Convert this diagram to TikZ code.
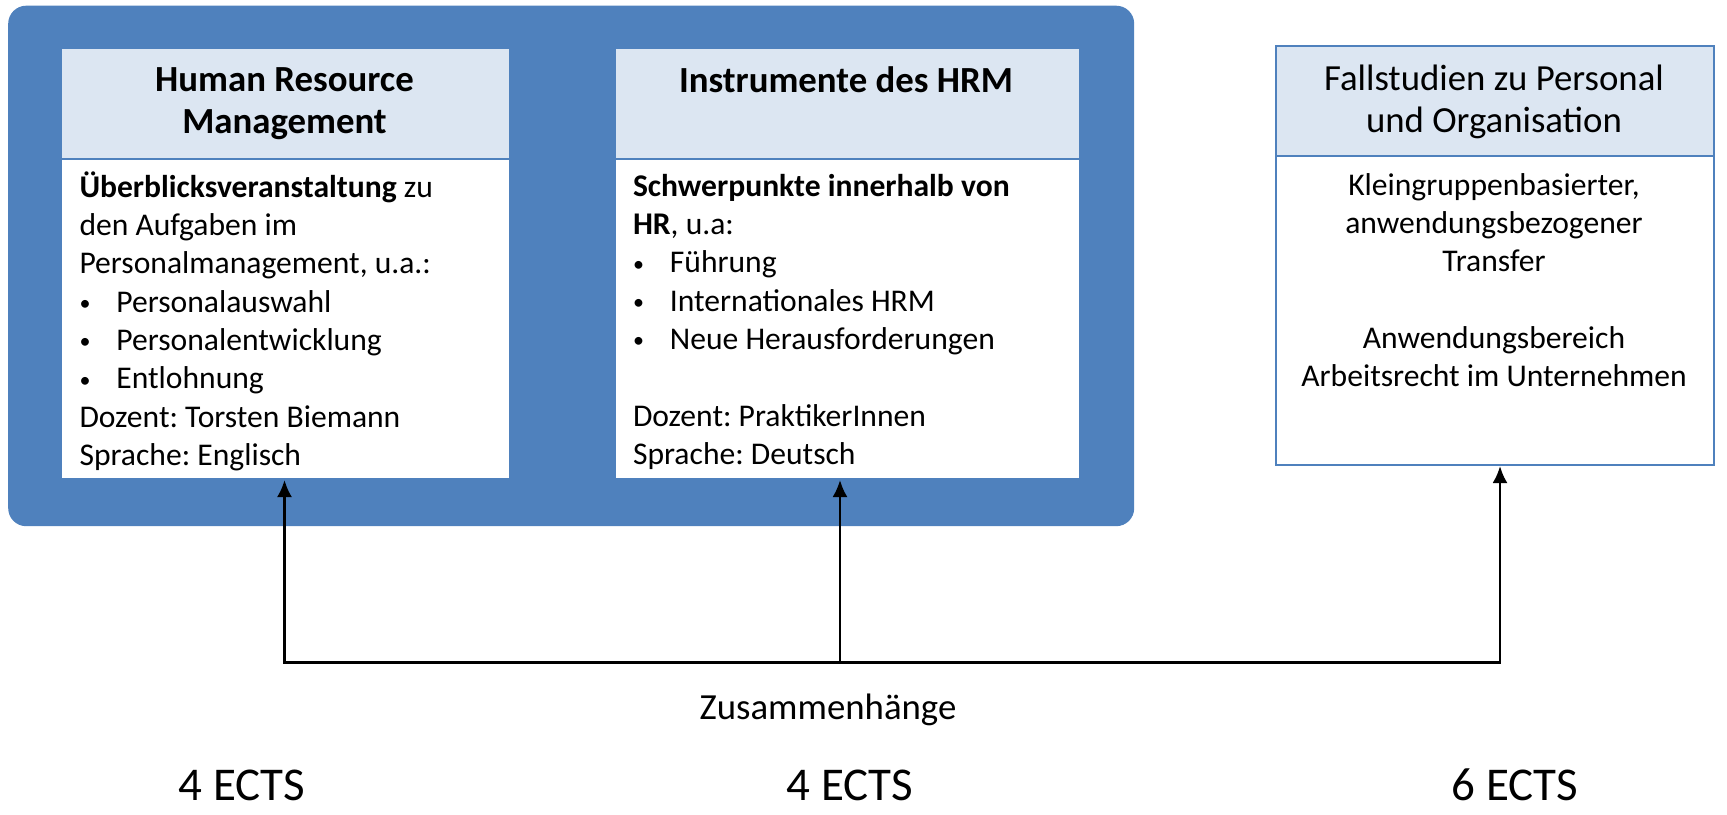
\documentclass[tikz,border=0pt]{standalone}
\usepackage{fontspec}
\setmainfont{Carlito}
\usetikzlibrary{arrows.meta}
\frenchspacing

\definecolor{accent}{HTML}{4F81BD}
\definecolor{headfill}{HTML}{DCE6F2}

% font sizes used in the chart
\newcommand\txtbody{\fontsize{31.6}{38.3}\selectfont}
\newcommand\txthead{\fontsize{36.8}{42.5}\selectfont}
\newcommand\txtects{\fontsize{47}{56}\selectfont}
% bullet with a fixed indent for list items
\newcommand\blt{\makebox[36.9pt][l]{\raisebox{1.5pt}{\fontsize{22}{22}\selectfont\textbullet}}}

\begin{document}
\begin{tikzpicture}[x=1pt,y=-1pt,
  panel/.style={rectangle, draw=accent, line width=2pt, inner sep=0pt, anchor=north west},
  headbox/.style={panel, fill=headfill},
  bodybox/.style={panel, fill=white},
  headtext/.style={inner sep=0pt, font=\txthead, align=center},
  bodytext/.style={inner sep=0pt, font=\txtbody},
  link/.style={draw=black, line width=2.5pt},
  tip/.style={-{Latex[length=17pt,width=15pt]}},
]
\useasboundingbox (0,0) rectangle (1727,814);

% blue group around the two lectures
\node[rectangle, fill=accent, rounded corners=18pt, inner sep=0pt,
      minimum width=1126pt, minimum height=520.5pt, anchor=north west]
      (group) at (8,5.5) {};

% Human Resource Management
\node[headbox, minimum width=449pt, minimum height=111pt] (hrmhead) at (60,47) {};
\node[bodybox, minimum width=449pt, minimum height=320pt] (hrmbody) at (60,158) {};
\node[headtext, font=\txthead\bfseries, anchor=north] (hrmtitle) at (284.5,61.5)
  {\strut Human Resource\\Management};
\node[bodytext, align=left, anchor=north west] (hrmtext) at (79.3,170.2)
  {\strut\textbf{Überblicksveranstaltung} zu\\
   den Aufgaben im\\
   Personalmanagement, u.a.:\\
   \blt Personalauswahl\\
   \blt Personalentwicklung\\
   \blt Entlohnung\\
   Dozent: Torsten Biemann\\
   Sprache: Englisch};

% Instrumente des HRM
\node[headbox, minimum width=465.5pt, minimum height=111pt] (insthead) at (613.5,47) {};
\node[bodybox, minimum width=465.5pt, minimum height=320pt] (instbody) at (613.5,158) {};
\node[headtext, font=\txthead\bfseries, anchor=base] (insttitle) at (846,92)
  {Instrumente des HRM};
\node[bodytext, align=left, anchor=north west] (insttext) at (632.8,169.2)
  {\strut\textbf{Schwerpunkte innerhalb von}\\
   \textbf{HR}, u.a:\\
   \blt Führung\\
   \blt Internationales HRM\\
   \blt Neue Herausforderungen\\[38.3pt]
   Dozent: PraktikerInnen\\
   Sprache: Deutsch};

% Fallstudien
\node[headbox, minimum width=438pt, minimum height=110pt] (fallhead) at (1275,45) {};
\node[bodybox, minimum width=438pt, minimum height=309pt] (fallbody) at (1275,155) {};
\node[headtext, anchor=north] (falltitle) at (1494,60.5)
  {\strut Fallstudien zu Personal\\und Organisation};
\node[bodytext, align=center, anchor=north] (falltext) at (1494,168.2)
  {\strut Kleingruppenbasierter,\\
   anwendungsbezogener\\
   Transfer\\[38.3pt]
   Anwendungsbereich\\
   Arbeitsrecht im Unternehmen};

% connectors
\coordinate (j1) at (284.5,662.7);
\coordinate (j2) at (840,662.7);
\coordinate (j3) at (1500,662.7);
\draw[link, {Latex[length=17pt,width=15pt]}-{Latex[length=17pt,width=15pt]}]
  (j1 |- hrmbody.south) -- (j1) -- (j3) -- (j3 |- fallbody.south);
\draw[link, tip] (j2) -- (j2 |- instbody.south);

\node[inner sep=0pt, font=\txthead, anchor=base] (zus) at (828,719) {Zusammenhänge};

% credit points
\node[inner sep=0pt, font=\txtects, anchor=base] (ects1) at (242,800) {4 ECTS};
\node[inner sep=0pt, font=\txtects, anchor=base] (ects2) at (850,800) {4 ECTS};
\node[inner sep=0pt, font=\txtects, anchor=base] (ects3) at (1515,800) {6 ECTS};
\end{tikzpicture}
\end{document}
